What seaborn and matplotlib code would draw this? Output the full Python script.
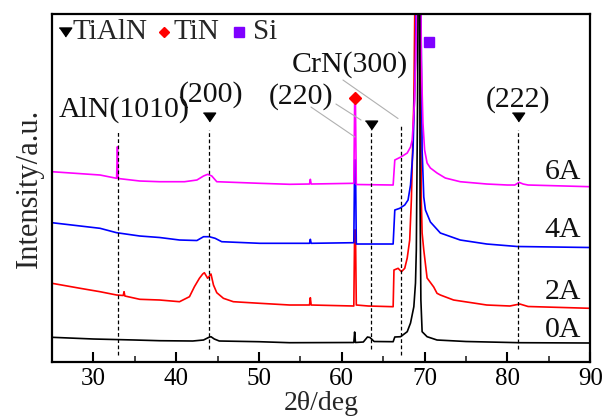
import numpy as np
import pandas as pd
import matplotlib
matplotlib.use("Agg")
import matplotlib.pyplot as plt
import seaborn as sns

# ---------------- data ----------------
x_0A = [25, 30, 35, 38, 42, 43.3, 43.9, 44.2, 44.6, 45.2, 50, 53.7, 61.45, 61.55, 61.65, 62.6,
        63.1, 63.4, 63.9, 66.2, 66.4, 67.1, 67.9, 68.3, 68.7, 68.9, 69.0, 69.15, 69.25, 69.4,
        69.45, 69.55, 69.7, 70.3, 71.5, 75, 81.5, 90]
y_0A = [24.7, 23, 22, 21.3, 21, 22, 24.5, 25.3, 23, 21, 20.3, 19.3, 19.5, 30, 19.5, 20,
        25, 24.5, 20.5, 20.3, 25, 25.3, 30.3, 39, 55.3, 79, 112, 262, 420, 420,
        162, 62, 30.3, 25.3, 22, 20.5, 19.3, 19]

x_2A = [25, 28.4, 30.8, 32.8, 33.6, 33.7, 33.8, 35.6, 38, 40.4, 41.6, 42.2, 42.8, 43.2, 43.4,
        43.8, 44.2, 44.5, 44.9, 45.7, 46.9, 50.1, 53.7, 56.1, 56.2, 56.3, 61.45, 61.55, 61.65,
        61.75, 63.2, 66.2, 66.3, 66.8, 67.2, 67.6, 67.9, 68.2, 68.4, 68.7, 68.9, 69.45, 69.6,
        69.7, 69.9, 70.3, 71.1, 71.5, 71.9, 73.5, 77.5, 80.3, 81.5, 82.5, 90]
y_2A = [78.7, 73.7, 70.3, 67, 66.5, 70.3, 66, 62.7, 62, 60.3, 65.3, 75.3, 83.7, 88, 89.3,
        83.7, 88, 77, 69.3, 63.7, 60.3, 58.7, 57, 57, 64.3, 57, 56, 132, 132,
        57, 56, 55.3, 92, 93.7, 90.3, 93.7, 104, 122, 162, 262, 420, 420, 162,
        129, 112, 84, 75, 68.7, 67, 62, 57, 56, 58, 55.5, 53.7]

x_4A = [25, 30.8, 32.8, 35.6, 38, 40.4, 42.5, 43.3, 44.0, 44.7, 45.5, 50.1, 53.7, 56.1, 56.2,
        56.3, 61.45, 61.55, 61.65, 61.75, 66.2, 66.4, 67, 67.6, 68, 68.3, 68.6, 68.9, 69.05,
        69.5, 69.7, 69.9, 70.1, 70.7, 71.9, 74.3, 77.5, 81.2, 90]
y_4A = [139.3, 133.7, 129.3, 126, 124.5, 122, 121.5, 125.3, 125.3, 123.7, 120.3, 118.7, 118.7,
        118.7, 122.7, 118.7, 119.3, 202, 202, 118, 118, 152, 153.7, 157, 162, 177, 212, 302,
        420, 420, 212, 165, 152, 140, 129, 122, 118, 115.5, 114.5]

x_6A = [25, 30.8, 32.8, 32.9, 33.0, 35.6, 38, 41, 42.5, 43.3, 43.8, 44.3, 44.9, 50.1, 53.7,
        56.1, 56.2, 56.3, 61.45, 61.55, 61.65, 61.75, 66.2, 66.4, 67.2, 67.9, 68.3, 68.5, 68.8,
        69.0, 69.1, 69.5, 69.6, 69.8, 70.0, 70.3, 70.7, 71.5, 72.5, 74.3, 77.5, 80.0, 80.9,
        81.4, 81.9, 82.5, 90]
y_6A = [190.3, 187, 183.7, 215.3, 183.5, 181, 180.3, 180.3, 182, 186, 187.7, 186, 180.3, 178.7,
        177.7, 178, 182.7, 178, 178.7, 258, 258, 177.5, 177, 202, 205.3, 209, 215, 222, 262,
        332, 420, 420, 302, 239, 212, 199, 194, 189, 184, 180.3, 178, 177, 177,
        179.7, 178, 177, 175.3]

sample_names = ["0A", "2A", "4A", "6A"]
sample_colors = ["#000000", "#FF0000", "#0000FF", "#FF00FF"]
sample_label_y = [32, 70, 132, 190]

# reference lines (2theta, top, bottom)
ref_x = [33.0, 43.9, 63.5, 67.1, 81.3]
ref_top = [230, 232, 232, 236, 232]
ref_bottom = [7, 13, 13, 7, 13]

# phase markers
tialn_x = [43.9, 63.5, 81.3]
tialn_y = [245, 237, 245]
tin_x = [61.6]
tin_y = [264]
si_x = [70.5]
si_y = [320]

# peak labels
peak_text = ["AlN(1010)", "(200)", "(220)", "CrN(300)", "(222)"]
peak_text_x = [33.75, 44.15, 55.1, 61.0, 81.3]
peak_text_y = [252, 267, 265, 297, 262]

# leader lines
lead_x0 = [56.27, 59.29, 60.14]
lead_y0 = [255, 258, 282]
lead_x1 = [61.59, 62.32, 66.79]
lead_y1 = [225, 242, 243.5]

# ---------------- plotting ----------------
sns.set_theme(style="white")
plt.rcParams["font.family"] = ["Liberation Serif", "DejaVu Serif"]

fig = plt.figure(figsize=(6.02, 4.16), dpi=100)
ax = fig.add_axes([0.0864, 0.1298, 0.894, 0.8365])

frames = []
for name, xs, ys in [("0A", x_0A, y_0A), ("2A", x_2A, y_2A), ("4A", x_4A, y_4A), ("6A", x_6A, y_6A)]:
    frames.append(pd.DataFrame({"two_theta": xs, "intensity": ys, "sample": name}))
df = pd.concat(frames, ignore_index=True)

draw_order = ["2A", "4A", "6A", "0A"]
for name in draw_order:
    i = sample_names.index(name)
    sub = df[df["sample"] == name]
    sns.lineplot(data=sub, x="two_theta", y="intensity", color=sample_colors[i],
                 lw=1.2, sort=False, estimator=None, ax=ax, legend=False)

for xv, t, b in zip(ref_x, ref_top, ref_bottom):
    ax.plot([xv, xv], [b, t], color="black", lw=0.9, ls=(0, (3.0, 2.0)), zorder=5)

for x0, y0, x1, y1 in zip(lead_x0, lead_y0, lead_x1, lead_y1):
    ax.plot([x0, x1], [y0, y1], color="#b0b0b0", lw=0.8, zorder=4)

tri = [(-1, 0.72), (1, 0.72), (0, -0.72)]
ax.plot(tialn_x, tialn_y, ls="none", marker=tri, ms=8.8, color="black", zorder=6)
ax.plot(tin_x, tin_y, ls="none", marker="D", ms=5.8, color="#FF0000", zorder=6)
ax.plot(si_x, si_y, ls="none", marker="s", ms=7.8, color="#7F00FF", zorder=6)

for t, xv, yv in zip(peak_text, peak_text_x, peak_text_y):
    ax.text(xv, yv, t, fontsize=21.5, ha="center", va="center", color="#111111", zorder=7)

for name, yv in zip(sample_names, sample_label_y):
    ax.text(88.9, yv, name, fontsize=21.5, ha="right", va="center", color="#111111")

# legend row
ax.plot([0.024], [0.948], transform=ax.transAxes, marker=tri, ms=9, color="black", ls="none")
ax.text(0.038, 0.948, "TiAlN", transform=ax.transAxes, fontsize=21, va="center", ha="left")
ax.plot([0.208], [0.948], transform=ax.transAxes, marker="D", ms=5.6, color="#FF0000", ls="none")
ax.text(0.226, 0.948, "TiN", transform=ax.transAxes, fontsize=21, va="center", ha="left")
ax.plot([0.348], [0.948], transform=ax.transAxes, marker="s", ms=7.2, color="#7F00FF", ls="none")
ax.text(0.373, 0.948, "Si", transform=ax.transAxes, fontsize=21, va="center", ha="left")

ax.set_xlim(25, 90)
ax.set_ylim(0, 348)
ax.set_xticks([30, 40, 50, 60, 70, 80, 90])
ax.set_xticks([35, 45, 55, 65, 75, 85], minor=True)
ax.set_yticks([])
ax.tick_params(axis="x", which="major", direction="in", length=7, width=1.5,
               labelsize=18, pad=4, bottom=True, top=False, colors="black")
ax.tick_params(axis="x", which="minor", direction="in", length=4, width=1.2, bottom=True, top=False)
ax.set_xlabel("2θ/deg", fontsize=20, labelpad=1)
ax.set_ylabel("Intensity/a.u.", fontsize=22, labelpad=6)
for s in ax.spines.values():
    s.set_visible(True)
    s.set_color("black")
    s.set_linewidth(1.6)

fig.savefig("out.png", dpi=100)
